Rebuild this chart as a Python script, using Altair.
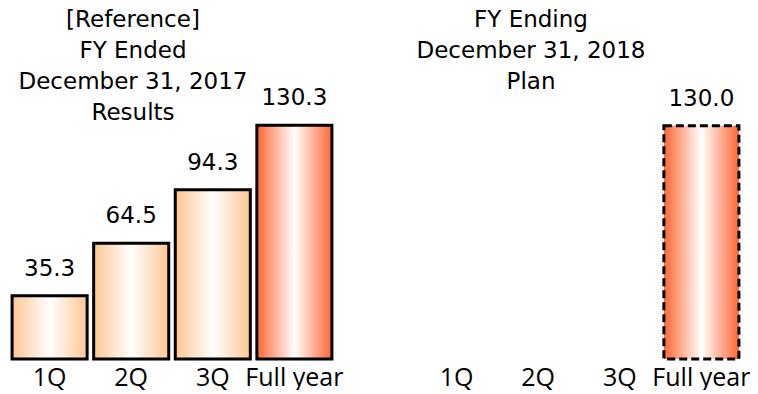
import altair as alt
import pandas as pd

# Net sales by period (billion yen)
categories = ["1Q", "2Q", "3Q", "Full year"]
results_periods = ["1Q", "2Q", "3Q", "Full year"]
results_values = [35.3, 64.5, 94.3, 130.3]
plan_periods = ["Full year"]
plan_values = [130.0]

title_results = ["[Reference]", "FY Ended", "December 31, 2017", "Results"]
title_plan = ["FY Ending", "December 31, 2018", "Plan"]

QUARTER_EDGE = "#FFC693"
YEAR_EDGE = "#FF6633"
TEXT_FONT = "DejaVu Sans"
LABEL_FONT = "Open Sans"


def shaded(edge):
    """Horizontal cylinder-like shading: coloured edges, white centre."""
    return alt.Gradient(
        gradient="linear",
        stops=[
            alt.GradientStop(color=edge, offset=0),
            alt.GradientStop(color="white", offset=0.5),
            alt.GradientStop(color=edge, offset=1),
        ],
        x1=0, x2=1, y1=0, y2=0,
    )


def panel(periods, values, title_lines, title_dx, title_offset, dashed):
    df = pd.DataFrame({"period": periods, "value": values})
    x = alt.X(
        "period:N",
        sort=categories,
        scale=alt.Scale(domain=categories, paddingInner=0.08, paddingOuter=0.05),
        axis=alt.Axis(
            title=None, domain=False, ticks=False, grid=False, labelAngle=0,
            labelFont=LABEL_FONT, labelFontSize=25, labelColor="black",
            labelPadding=6,
        ),
    )
    y = alt.Y("value:Q", scale=alt.Scale(domain=[0, 199]), axis=None)
    base = alt.Chart(df).encode(x=x, y=y)

    stroke_style = {"stroke": "black", "strokeWidth": 3}
    if dashed:
        stroke_style["strokeDash"] = [8, 4]

    quarters = base.transform_filter(alt.datum.period != "Full year").mark_bar(
        fill=shaded(QUARTER_EDGE), **stroke_style
    )
    full_year = base.transform_filter(alt.datum.period == "Full year").mark_bar(
        fill=shaded(YEAR_EDGE), **stroke_style
    )
    labels = base.mark_text(
        baseline="alphabetic", dy=-20, font=TEXT_FONT, fontSize=23, color="black"
    ).encode(text=alt.Text("value:Q", format=".1f"))

    return alt.layer(quarters, full_year, labels).properties(
        width=328,
        height=357,
        title=alt.TitleParams(
            text=title_lines, font=TEXT_FONT, fontSize=23, fontWeight="normal",
            lineHeight=31, color="black", anchor="middle",
            dx=title_dx, offset=title_offset,
        ),
    )


left = panel(results_periods, results_values, title_results, -39, -123, False)
right = panel(plan_periods, plan_values, title_plan, -48, -92, True)

chart = (
    alt.hconcat(left, right, spacing=72)
    .properties(
        padding={"left": 8, "top": 2, "right": 0, "bottom": 0},
        background="white",
    )
    .configure_view(stroke="#dddddd", strokeOpacity=0)
)

chart.save("out.html", embed_options={"renderer": "svg", "actions": False})
